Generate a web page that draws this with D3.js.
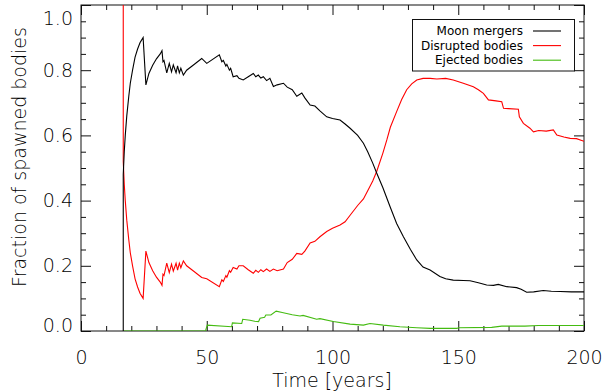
<!DOCTYPE html>
<html>
<head>
<meta charset="utf-8">
<script src="https://cdn.jsdelivr.net/npm/d3@7"></script>
<style>
  html, body { margin: 0; padding: 0; background: #fff; }
  svg { display: block; }
  text { font-family: "DejaVu Sans", sans-serif; font-weight: 200; fill: #000; }
</style>
</head>
<body>
<svg id="chart" width="603" height="392"></svg>
<script>
// ---- data ----
const mergersT = [16.8,16.8,17.2,17.6,18.2,19.0,19.6,20.5,21.5,22.5,23.5,24.7,25.8,27,28.5,30,31.5,32.2,32.6,33.0,34.1,35.1,36.0,36.7,37.8,38.4,39.1,39.7,40.7,42.0,44.7,48.0,50.0,55.0,56.0,56.6,57.6,58.0,59.0,59.5,60.5,62.0,62.8,64.5,66.5,68.5,69.5,70.5,71.5,72.5,73.8,75.1,76.5,78,80.5,82,84,85.8,87.8,89,91.1,93,95,97.7,100,103,105,107,110,112.3,114,116,117.6,120,122.9,125.5,128.2,131,133.5,136,138.8,142.7,145,148,152,154.7,158,161.3,164,165.9,169.3,173.2,175,177.2,180,183.8,187,190.5,195,200];
const mergersV = [0,0.48,0.55,0.60,0.66,0.72,0.76,0.80,0.84,0.865,0.885,0.90,0.755,0.79,0.815,0.835,0.85,0.86,0.826,0.83,0.792,0.821,0.795,0.816,0.792,0.813,0.792,0.806,0.785,0.80,0.816,0.836,0.821,0.847,0.826,0.83,0.813,0.818,0.80,0.806,0.78,0.783,0.775,0.77,0.78,0.79,0.78,0.785,0.776,0.78,0.768,0.775,0.75,0.755,0.76,0.748,0.74,0.72,0.73,0.715,0.693,0.69,0.675,0.657,0.652,0.647,0.635,0.622,0.60,0.576,0.55,0.515,0.484,0.44,0.381,0.33,0.289,0.25,0.218,0.196,0.187,0.167,0.16,0.156,0.155,0.154,0.148,0.141,0.14,0.143,0.136,0.133,0.128,0.119,0.12,0.124,0.122,0.121,0.12,0.12];

const disruptedT = [16.8,16.8,17.2,17.6,18.2,19.0,19.6,20.5,21.5,22.5,23.5,24.7,25.8,27,28.5,30,31.5,32.2,32.6,33.0,34.1,35.1,36.0,36.7,37.8,38.4,39.1,39.7,40.7,42.0,44.7,48.0,50.0,55.0,56.0,56.6,57.6,58.0,59.0,59.5,60.5,62,62.8,64.5,66.5,68.5,69.5,70.5,71.5,72.5,73.8,75.1,76.5,78,80.5,82,84,85.8,87.8,89,91.1,93,95,97.7,100,103,105,107,110,112.3,114,116,117.6,120,121.6,123,125.5,127.5,129.5,131.5,133.5,136,138.8,141.5,145,148,152,156,158,160,162,165,167.3,168,170,173.9,174.3,175.9,178.5,179.9,182,185,187.8,189.2,192,194.5,197,200];
const disruptedV = [1.0,0.52,0.45,0.40,0.34,0.28,0.24,0.20,0.16,0.135,0.115,0.10,0.245,0.21,0.185,0.165,0.15,0.14,0.174,0.17,0.208,0.179,0.205,0.184,0.208,0.187,0.208,0.194,0.215,0.20,0.184,0.164,0.16,0.136,0.157,0.152,0.17,0.165,0.185,0.18,0.195,0.19,0.2,0.2,0.188,0.177,0.186,0.18,0.188,0.182,0.19,0.183,0.19,0.185,0.19,0.21,0.22,0.238,0.235,0.245,0.27,0.275,0.289,0.305,0.315,0.325,0.335,0.355,0.385,0.405,0.43,0.46,0.49,0.545,0.586,0.625,0.673,0.71,0.74,0.758,0.77,0.775,0.775,0.773,0.775,0.77,0.76,0.749,0.74,0.729,0.709,0.706,0.703,0.683,0.682,0.68,0.657,0.637,0.622,0.611,0.615,0.613,0.617,0.601,0.595,0.591,0.59,0.582];

const ejectedT = [16.8,49.5,50.2,59.9,60.2,63.9,64.3,67.2,69.0,70.6,71.2,73,73.5,75.5,77.6,80,84,87.1,88.3,93.7,95,100.3,107,112.3,114.9,120.2,126.8,133.5,138.8,149.5,150,163.3,167.3,176.5,181.8,200];
const ejectedV = [0,0,0.018,0.013,0.025,0.023,0.036,0.033,0.03,0.029,0.039,0.042,0.049,0.049,0.061,0.057,0.05,0.046,0.048,0.036,0.038,0.029,0.021,0.018,0.023,0.018,0.013,0.01,0.008,0.008,0.01,0.011,0.015,0.015,0.017,0.017];

const seriesNames = ["Moon mergers", "Disrupted bodies", "Ejected bodies"];
const seriesColors = ["#000000", "#ff0000", "#44bb11"];
const xTicks = [0, 50, 100, 150, 200];
const yTicks = [0.0, 0.2, 0.4, 0.6, 0.8, 1.0];
const xTitle = "Time [years]";
const yTitle = "Fraction of spawned bodies";

// ---- layout ----
const svg = d3.select("#chart");
const L = 81, R = 584, T = 5, B = 331;
const x = d3.scaleLinear().domain([0, 200]).range([L, R]);
const y = d3.scaleLinear().domain([0, 1]).range([B, T]);

// minor ticks
const xMinor = d3.range(0, 201, 10).filter(v => !xTicks.includes(v));
const yMinor = d3.range(0, 1.001, 0.05).map(v => +v.toFixed(2)).filter(v => !yTicks.some(t => Math.abs(t - v) < 1e-9));

const g = svg.append("g");

function styleAxis(sel) {
  sel.select(".domain").remove();
  sel.selectAll("line").attr("stroke", "#111").attr("stroke-width", 1);
}
const fmtY = d3.format(".1f");
const styleText = s => s.selectAll("text").attr("font-size", 19).attr("fill", "#000")
  .attr("font-family", "DejaVu Sans").attr("font-weight", 200);

// bottom major
g.append("g").attr("transform", `translate(0,${B})`)
  .call(d3.axisBottom(x).tickValues(xTicks).tickSize(-10).tickPadding(20).tickFormat(d3.format("d")))
  .call(styleAxis).call(styleText);
// bottom minor
g.append("g").attr("transform", `translate(0,${B})`)
  .call(d3.axisBottom(x).tickValues(xMinor).tickSize(-5).tickFormat(""))
  .call(styleAxis);
// top major/minor
g.append("g").attr("transform", `translate(0,${T})`)
  .call(d3.axisTop(x).tickValues(xTicks).tickSize(-10).tickFormat(""))
  .call(styleAxis);
g.append("g").attr("transform", `translate(0,${T})`)
  .call(d3.axisTop(x).tickValues(xMinor).tickSize(-5).tickFormat(""))
  .call(styleAxis);
// left major
g.append("g").attr("transform", `translate(${L},0)`)
  .call(d3.axisLeft(y).tickValues(yTicks).tickSize(-10).tickPadding(8).tickFormat(fmtY))
  .call(styleAxis).call(styleText)
  .call(s => s.selectAll("text").attr("dy", d => d === 1 ? "1.05em" : d === 0 ? "0.05em" : "0.32em"));
g.append("g").attr("transform", `translate(${L},0)`)
  .call(d3.axisLeft(y).tickValues(yMinor).tickSize(-5).tickFormat(""))
  .call(styleAxis);
// right
g.append("g").attr("transform", `translate(${R},0)`)
  .call(d3.axisRight(y).tickValues(yTicks).tickSize(-10).tickFormat(""))
  .call(styleAxis);
g.append("g").attr("transform", `translate(${R},0)`)
  .call(d3.axisRight(y).tickValues(yMinor).tickSize(-5).tickFormat(""))
  .call(styleAxis);

// frame
g.append("rect").attr("x", L).attr("y", T).attr("width", R - L).attr("height", B - T)
  .attr("fill", "none").attr("stroke", "#111").attr("stroke-width", 1);

// clip
svg.append("defs").append("clipPath").attr("id", "clip")
  .append("rect").attr("x", L).attr("y", T).attr("width", R - L).attr("height", B - T);

const line = d3.line().x(d => x(d[0])).y(d => y(d[1]));
const series = [
  d3.zip(mergersT, mergersV),
  d3.zip(disruptedT, disruptedV),
  d3.zip(ejectedT, ejectedV)
];
const plot = svg.append("g").attr("clip-path", "url(#clip)");
[2, 1, 0].forEach(i => {
  plot.append("path").datum(series[i])
    .attr("d", line).attr("fill", "none")
    .attr("stroke", seriesColors[i]).attr("stroke-width", 1.1)
    .attr("stroke-linejoin", "miter");
});

// axis titles
svg.append("text").attr("x", 332).attr("y", 387).attr("text-anchor", "middle")
  .attr("font-size", 19).text(xTitle);
svg.append("text").attr("transform", "translate(26,157) rotate(-90)").attr("text-anchor", "middle")
  .attr("font-size", 19).text(yTitle);

// legend
const lg = svg.append("g");
lg.append("rect").attr("x", 412.5).attr("y", 19.5).attr("width", 162).attr("height", 51.5)
  .attr("fill", "#fff").attr("stroke", "#111").attr("stroke-width", 1);
seriesNames.forEach((name, i) => {
  const yy = 31 + i * 14.6;
  lg.append("text").attr("x", 523).attr("y", yy + 4).attr("text-anchor", "end")
    .attr("font-size", 12).style("font-weight", 400).text(name);
  lg.append("line").attr("x1", 533).attr("x2", 561).attr("y1", yy).attr("y2", yy)
    .attr("stroke", seriesColors[i]).attr("stroke-width", 1.1);
});
</script>
</body>
</html>
